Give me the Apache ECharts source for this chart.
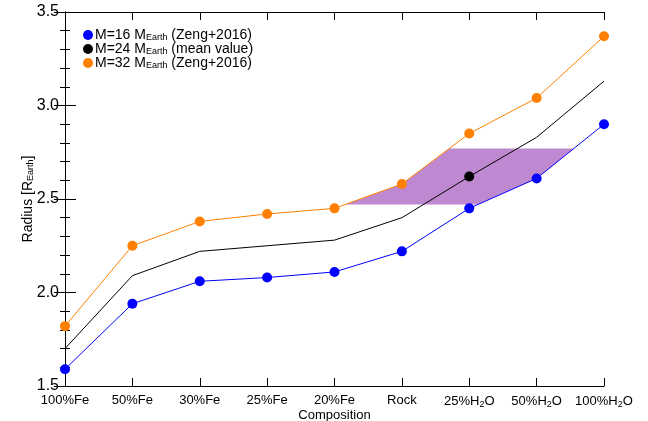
<!DOCTYPE html>
<html><head><meta charset="utf-8">
<script src="https://cdn.jsdelivr.net/npm/echarts@6/dist/echarts.min.js"></script>
<style>html,body{margin:0;padding:0;background:#fff}#c{width:648px;height:421px}</style>
</head><body><div id="c"></div>
<script>
// categories ("_2" marks a subscript 2)
const categories = ['100%Fe','50%Fe','30%Fe','25%Fe','20%Fe','Rock','25%H_2O','50%H_2O','100%H_2O'];
const m16 = [1.59, 1.94, 2.06, 2.08, 2.11, 2.22, 2.45, 2.61, 2.90];
const m24 = [1.70, 2.09, 2.22, 2.25, 2.28, 2.40, 2.62, 2.83, 3.13];
const m32 = [1.82, 2.25, 2.38, 2.42, 2.45, 2.58, 2.85, 3.04, 3.37];
const m24MarkerIndex = 6;
const bandLow = 2.47, bandHigh = 2.77;
const yTicks = [1.5, 2.0, 2.5, 3.0, 3.5];
const legendNames = ['M=16 M_Earth (Zeng+2016)','M=24 M_Earth (mean value)','M=32 M_Earth (Zeng+2016)'];

function crossing(arr, level){
  for(let i=0;i<arr.length-1;i++){
    const a=arr[i], b=arr[i+1];
    if((a-level)*(b-level)<=0 && a!==b){ return i+(level-a)/(b-a); }
  }
  return null;
}
function buildPolygon(){
  const oL = crossing(m32, bandLow), oH = crossing(m32, bandHigh);
  const bL = crossing(m16, bandLow), bH = crossing(m16, bandHigh);
  const pts=[[oL,bandLow]];
  for(let i=Math.ceil(oL);i<oH;i++) pts.push([i,m32[i]]);
  pts.push([oH,bandHigh]);
  pts.push([bH,bandHigh]);
  for(let i=Math.floor(bH);i>bL;i--) pts.push([i,m16[i]]);
  pts.push([bL,bandLow]);
  return pts;
}
const poly = buildPolygon();
const toXY = arr => arr.map((v,i)=>[i,v]);
// convert "_X" subscript notation into rich text
function rich(s){
  const re = /_(Earth|\d)/g;
  let out='', last=0, m;
  while((m=re.exec(s))){
    if(m.index>last) out += '{t|'+s.slice(last,m.index)+'}';
    out += '{s|'+m[1]+'}';
    last = re.lastIndex;
  }
  if(last<s.length) out += '{t|'+s.slice(last)+'}';
  return out;
}

const font = 'Liberation Sans, Arial, Helvetica, sans-serif';
const chart = echarts.init(document.getElementById('c'));
chart.setOption({
  animation:false,
  grid:{left:65, right:44, top:12, bottom:35, outerBoundsMode:'none'},
  legend:{
    left:78, top:23, orient:'vertical', itemWidth:10, itemHeight:10, itemGap:0,
    icon:'circle', selectedMode:false,
    formatter: n => rich(n),
    textStyle:{padding:[0,0,0,-3], rich:{
      t:{fontSize:14, fontFamily:font, color:'#000', lineHeight:14},
      s:{fontSize:9, fontFamily:font, color:'#000', verticalAlign:'bottom', lineHeight:14, padding:[5,0,0,0]}
    }},
    data:legendNames
  },
  xAxis:[{
    type:'value', min:0, max:categories.length-1, interval:1,
    name:'Composition', nameLocation:'middle', nameGap:23, nameMoveOverlap:false,
    nameTextStyle:{fontSize:13, fontFamily:font, color:'#000'},
    axisLine:{lineStyle:{color:'#000', width:1}},
    axisTick:{inside:true, length:8, lineStyle:{color:'#000'}},
    splitLine:{show:false},
    axisLabel:{
      formatter: v => rich(categories[v]),
      margin:8, color:'#000', showMaxLabel:true, showMinLabel:true, hideOverlap:false,
      rich:{t:{fontSize:13, fontFamily:font, color:'#000'}, s:{fontSize:9, fontFamily:font, color:'#000', verticalAlign:'bottom', padding:[6,0,0,0]}}
    }
  },{
    type:'value', position:'top', min:0, max:categories.length-1, interval:1,
    axisLine:{lineStyle:{color:'#000', width:1}},
    axisTick:{inside:true, length:8, lineStyle:{color:'#000'}},
    splitLine:{show:false}, axisLabel:{show:false}
  }],
  yAxis:[{
    type:'value', min:yTicks[0], max:yTicks[yTicks.length-1], interval:0.5,
    name:rich('Radius [R_Earth]'), nameLocation:'middle', nameGap:30, nameMoveOverlap:false,
    nameTextStyle:{fontSize:14, fontFamily:font, color:'#000', rich:{
      t:{fontSize:14, fontFamily:font, color:'#000'},
      s:{fontSize:9, fontFamily:font, color:'#000', verticalAlign:'bottom', padding:[5,0,0,0]}}},
    axisLine:{show:true, lineStyle:{color:'#000', width:1}},
    axisTick:{inside:true, length:11, lineStyle:{color:'#000'}},
    minorTick:{show:true, splitNumber:5, length:5, lineStyle:{color:'#000'}},
    splitLine:{show:false},
    axisLabel:{formatter: v => v.toFixed(1), fontSize:16, fontFamily:font, color:'#000', margin:6, showMaxLabel:true}
  },{
    type:'value', position:'right', min:yTicks[0], max:yTicks[yTicks.length-1], interval:0.5,
    axisLine:{show:true, lineStyle:{color:'#000', width:1}},
    axisTick:{inside:true, length:11, lineStyle:{color:'#000'}},
    minorTick:{show:true, splitNumber:5, length:5, lineStyle:{color:'#000'}},
    splitLine:{show:false}, axisLabel:{show:false}
  }],
  series:[
    {
      type:'custom', z:1, silent:true,
      data:[0],
      renderItem:(params, api)=>({
        type:'polygon',
        shape:{points: poly.map(p=>api.coord(p))},
        style:{fill:'#bf89d1'}
      })
    },
    {
      name:legendNames[0], type:'line', z:3, data:toXY(m16),
      symbol:'circle', symbolSize:10, color:'#0000ff',
      lineStyle:{width:1, color:'#0000ff'}, itemStyle:{color:'#0000ff'}
    },
    {
      name:legendNames[1], type:'line', z:3,
      data:m24.map((v,i)=> i===m24MarkerIndex ? {value:[i,v], symbol:'circle', symbolSize:10} : {value:[i,v], symbol:'none'}),
      showAllSymbol:true, color:'#000',
      lineStyle:{width:1, color:'#000'}, itemStyle:{color:'#000'}
    },
    {
      name:legendNames[2], type:'line', z:3, data:toXY(m32),
      symbol:'circle', symbolSize:10, color:'#ff8000',
      lineStyle:{width:1, color:'#ff8000'}, itemStyle:{color:'#ff8000'}
    }
  ]
});
</script></body></html>
